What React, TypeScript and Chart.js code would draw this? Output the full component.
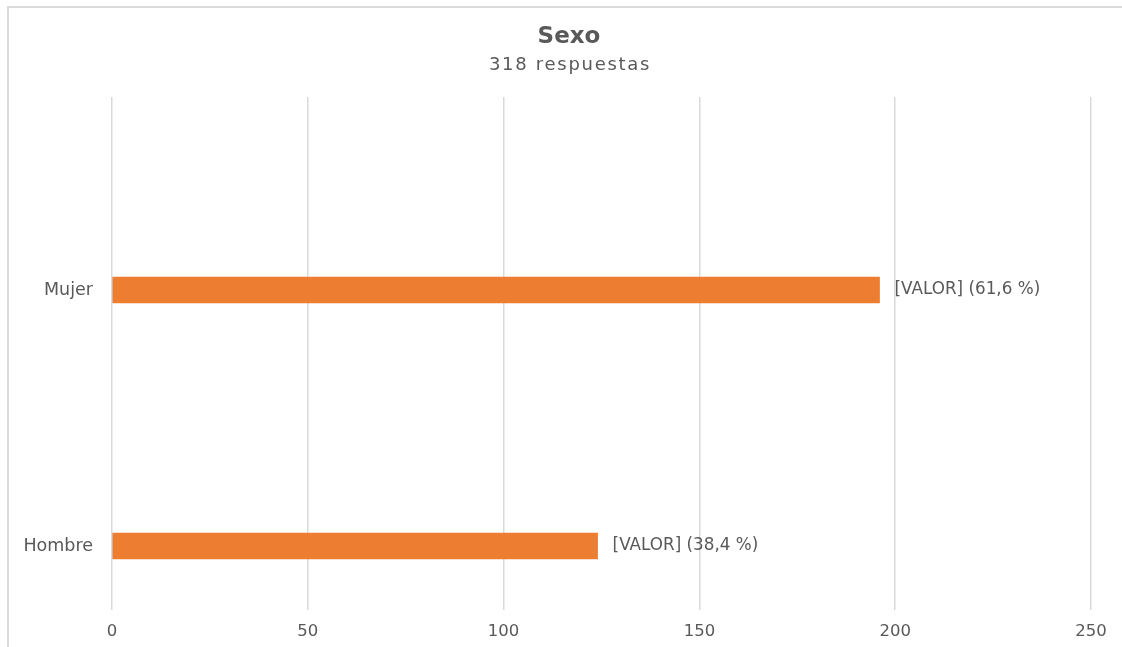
import React, { useEffect, useRef } from "react";
import { Chart, registerables } from "chart.js";

Chart.register(...registerables);

const categories = ["Mujer", "Hombre"];
const values = [196, 124];
const dataLabels = ["[VALOR] (61,6 %)", "[VALOR] (38,4 %)"];
const xTicks = [0, 50, 100, 150, 200, 250];
const titleText = "Sexo";
const subtitleText = "318 respuestas";

const FONT = "'DejaVu Sans', 'Open Sans', sans-serif";
const TEXT = "#595959";
const GRID = "#d9d9d9";
const BAR = "#ed7d31";

export default function App() {
  const ref = useRef<HTMLCanvasElement | null>(null);

  useEffect(() => {
    if (!ref.current) return;
    const textPlugin = {
      id: "textPlugin",
      afterDraw(chart: any) {
        const ctx = chart.ctx;
        ctx.save();
        ctx.fillStyle = TEXT;
        ctx.textBaseline = "middle";
        ctx.textAlign = "left";
        ctx.font = `16.8px ${FONT}`;
        const meta = chart.getDatasetMeta(0);
        meta.data.forEach((el: any, i: number) => {
          ctx.fillText(dataLabels[i], el.x + 15, el.y);
        });
        ctx.textAlign = "center";
        ctx.textBaseline = "alphabetic";
        ctx.font = `bold 23px ${FONT}`;
        ctx.fillText(titleText, 569, 43);
        ctx.font = `18px ${FONT}`;
        (ctx as any).letterSpacing = "1.7px";
        ctx.fillText(subtitleText, 570, 70);
        ctx.restore();
      },
    };
    const chart = new Chart(ref.current, {
      type: "bar",
      data: {
        datasets: [
          {
            data: values.map((v, i) => ({ x: v, y: i })),
            backgroundColor: BAR,
            barThickness: 26,
          },
        ],
      },
      options: {
        indexAxis: "y",
        responsive: false,
        animation: false,
        layout: { padding: { left: 0, right: 31, top: 97, bottom: 0 } },
        plugins: {
          legend: { display: false },
          tooltip: { enabled: false },
          title: { display: false },
        },
        scales: {
          x: {
            type: "linear",
            min: xTicks[0],
            max: xTicks[xTicks.length - 1],
            afterBuildTicks: (s: any) => {
              s.ticks = xTicks.map((v) => ({ value: v }));
            },
            afterFit: (s: any) => {
              s.height = 37;
            },
            grid: { color: GRID, lineWidth: 1.5, drawTicks: false },
            border: { display: false },
            ticks: {
              color: TEXT,
              padding: 12,
              font: { family: FONT, size: 16.5 },
            },
          },
          y: {
            type: "linear",
            reverse: true,
            offset: false,
            min: -0.754,
            max: 1.25,
            afterBuildTicks: (s: any) => {
              s.ticks = categories.map((_, i) => ({ value: i }));
            },
            afterFit: (s: any) => {
              s.width = 112;
            },
            grid: { display: false, drawTicks: false },
            border: { display: false },
            ticks: {
              color: TEXT,
              padding: 19,
              font: { family: FONT, size: 17.5 },
              callback: (v: any) => categories[Number(v)] ?? "",
            },
          },
        },
      },
      plugins: [textPlugin],
    });
    return () => chart.destroy();
  }, []);

  return (
    <div
      style={{
        position: "fixed",
        left: 0,
        top: 0,
        width: 1122,
        height: 647,
        overflow: "hidden",
        background: "#fff",
      }}
    >
      <canvas ref={ref} width={1122} height={647} style={{ position: "absolute", left: 0, top: 0 }} />
      <div
        style={{
          position: "absolute",
          left: 7,
          top: 6,
          width: 1130,
          height: 660,
          border: "2px solid #dadada",
          pointerEvents: "none",
        }}
      />
    </div>
  );
}
